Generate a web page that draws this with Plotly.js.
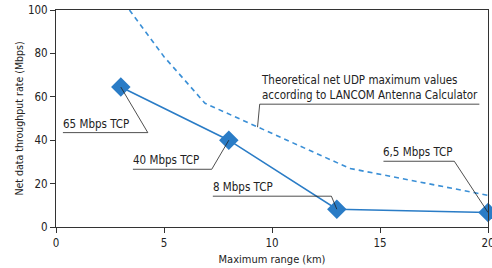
<!DOCTYPE html>
<html><head><meta charset="utf-8">
<script src="https://cdn.plot.ly/plotly-3.0.1.min.js"></script>
<style>html,body{margin:0;padding:0;background:#fff}</style>
</head><body>
<div id="chart" style="width:492px;height:268px"></div>
<script>
// TCP measured values
const tcpRange = [3, 8, 13, 20];
const tcpRate = [64.5, 40, 8.2, 6.7];
const tcpLabels = ['65 Mbps TCP', '40 Mbps TCP', '8 Mbps TCP', '6,5 Mbps TCP'];
// Theoretical UDP maximum values (dashed)
const udpRange = [3.4, 5, 6.9, 13.6, 20];
const udpRate = [100, 78.5, 57, 27, 14.6];
const udpLabel = 'Theoretical net UDP maximum values<br>according to LANCOM Antenna Calculator';
const xTicks = [0, 5, 10, 15, 20];
const yTicks = [0, 20, 40, 60, 80, 100];

const FONT = '"DejaVu Sans Condensed", "Liberation Sans Narrow", sans-serif';
const BLUE = '#2a7cc6';
const LSIZE = 11.5;

// label underline placement [x0, x1, y] in axis units
const labelPos = [
  [0.32, 4.25, 43.5],
  [3.56, 7.21, 26.6],
  [7.26, 12.75, 14.2],
  [15.16, 18.44, 30.3]
];
const udpLabelPos = [9.43, 19.6, 56.6];
const udpTarget = [9.33, 46.0];

const shapes = [];
const annotations = [];
function addLabel(pos, tx, ty, text) {
  shapes.push({type: 'line', xref: 'x', yref: 'y', x0: pos[0], x1: pos[1], y0: pos[2], y1: pos[2],
    line: {color: '#222', width: 0.8}});
  shapes.push({type: 'line', xref: 'x', yref: 'y', x0: pos[1], x1: tx, y0: pos[2], y1: ty,
    line: {color: '#222', width: 0.8}});
  annotations.push({x: pos[0], y: pos[2], xref: 'x', yref: 'y', text: text, showarrow: false,
    xanchor: 'left', yanchor: 'bottom', align: 'left', xshift: -2, yshift: 0,
    font: {family: FONT, size: LSIZE, color: '#222'}});
}
tcpLabels.forEach((t, i) => addLabel(labelPos[i], tcpRange[i], tcpRate[i], t));
shapes.push({type: 'line', xref: 'x', yref: 'y', x0: udpLabelPos[0], x1: udpLabelPos[1], y0: udpLabelPos[2], y1: udpLabelPos[2],
  line: {color: '#222', width: 0.8}});
shapes.push({type: 'line', xref: 'x', yref: 'y', x0: udpLabelPos[0], x1: udpTarget[0], y0: udpLabelPos[2], y1: udpTarget[1],
  line: {color: '#222', width: 0.8}});
annotations.push({x: udpLabelPos[0], y: udpLabelPos[2], xref: 'x', yref: 'y', text: udpLabel, showarrow: false,
  xanchor: 'left', yanchor: 'bottom', align: 'left', xshift: -1,
  font: {family: FONT, size: LSIZE, color: '#222'}});

const traces = [
  {x: udpRange, y: udpRate, mode: 'lines', type: 'scatter',
   line: {color: '#3a8fd6', width: 1.6, dash: '5px,4px'}, hoverinfo: 'skip'},
  {x: tcpRange, y: tcpRate, mode: 'lines+markers', type: 'scatter', cliponaxis: false,
   line: {color: BLUE, width: 1.6},
   marker: {symbol: 'diamond', size: 15, color: BLUE, line: {width: 0}}}
];

const axisCommon = {ticks: 'outside', ticklen: 5, tickcolor: '#333', ticklabeloverflow: 'allow',
  showgrid: false, zeroline: false, showline: true, linecolor: '#333', linewidth: 1, mirror: true,
  tickfont: {family: FONT, size: 11.5, color: '#222'}};

const layout = {
  width: 492, height: 268,
  margin: {l: 56, r: 4, t: 10, b: 41},
  paper_bgcolor: '#fff', plot_bgcolor: '#fff',
  showlegend: false,
  font: {family: FONT, size: 11.5, color: '#222'},
  xaxis: Object.assign({range: [0, 20], tickvals: xTicks,
    title: {text: 'Maximum range (km)', font: {family: FONT, size: 11, color: '#222'}, standoff: 6}}, axisCommon),
  yaxis: Object.assign({range: [0, 100], tickvals: yTicks,
    title: {text: 'Net data throughput rate (Mbps)', font: {family: FONT, size: 10.5, color: '#222'}, standoff: 2}}, axisCommon),
  shapes: shapes,
  annotations: annotations
};
Plotly.newPlot('chart', traces, layout, {displayModeBar: false, staticPlot: true});
</script>
</body></html>
